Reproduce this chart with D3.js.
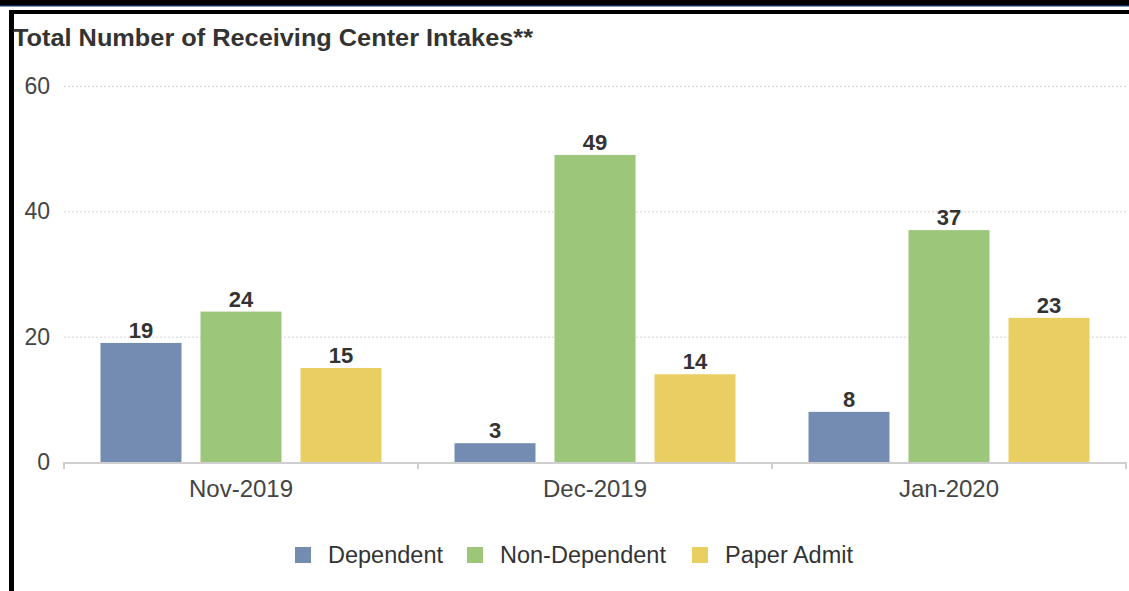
<!DOCTYPE html>
<html>
<head>
<meta charset="utf-8">
<script src="https://cdn.jsdelivr.net/npm/d3@7"></script>
<style>
  html, body { margin: 0; padding: 0; background: #fff; }
  svg { display: block; font-family: "Liberation Sans", Arial, sans-serif; }
</style>
</head>
<body>
<svg id="chart" width="1129" height="591"></svg>
<script>
const title = "Total Number of Receiving Center Intakes**";
const categories = ["Nov-2019", "Dec-2019", "Jan-2020"];
const seriesNames = ["Dependent", "Non-Dependent", "Paper Admit"];
const dependent = [19, 3, 8];
const nonDependent = [24, 49, 37];
const paperAdmit = [15, 14, 23];
const yTicks = [0, 20, 40, 60];
const colors = ["#748CB2", "#9CC67A", "#E9CF62"];

const seriesValues = [dependent, nonDependent, paperAdmit];
const svg = d3.select("#chart");

// frame decorations
svg.append("rect").attr("x", 0).attr("y", 0).attr("width", 1129).attr("height", 5).attr("fill", "#000");
svg.append("rect").attr("x", 0).attr("y", 5).attr("width", 1129).attr("height", 1.5).attr("fill", "#12305a");
svg.append("rect").attr("x", 9).attr("y", 10).attr("width", 1120).attr("height", 4).attr("fill", "#000");
svg.append("rect").attr("x", 9).attr("y", 10).attr("width", 5).attr("height", 581).attr("fill", "#000");

// title
svg.append("text")
  .attr("x", 13).attr("y", 46)
  .attr("font-size", 23).attr("font-weight", "bold").attr("fill", "#333")
  .attr("textLength", 520).attr("lengthAdjust", "spacingAndGlyphs")
  .text(title);

const x0 = d3.scaleBand().domain(categories).range([64, 1126]).paddingInner(0).paddingOuter(0);
const x1 = d3.scaleBand().domain(seriesNames).range([0, x0.bandwidth()]).paddingInner(0.19).paddingOuter(0.365);
const y = d3.scaleLinear().domain([0, 60]).range([462, 86]);

// gridlines
svg.append("g").selectAll("line")
  .data(yTicks.filter(d => d > 0))
  .join("line")
  .attr("x1", 64).attr("x2", 1127)
  .attr("y1", d => y(d) + 0.5).attr("y2", d => y(d) + 0.5)
  .attr("stroke", "#d4d4d4").attr("stroke-width", 1).attr("stroke-dasharray", "2,2");

// y axis labels
const yAxis = d3.axisLeft(y).tickValues(yTicks).tickSize(0).tickPadding(14);
const gy = svg.append("g").attr("transform", "translate(64,0)").call(yAxis);
gy.select(".domain").remove();
gy.selectAll("text").attr("font-size", 23).attr("fill", "#444").attr("font-family", "Liberation Sans, Arial, sans-serif");

// bars
const groups = svg.append("g").selectAll("g")
  .data(categories)
  .join("g")
  .attr("transform", d => `translate(${x0(d)},0)`);

groups.selectAll("rect")
  .data((c, i) => seriesNames.map((s, j) => ({ s, v: seriesValues[j][i], j })))
  .join("rect")
  .attr("x", d => x1(d.s))
  .attr("width", x1.bandwidth())
  .attr("y", d => y(d.v))
  .attr("height", d => y(0) - y(d.v))
  .attr("fill", d => colors[d.j]);

groups.selectAll("text.val")
  .data((c, i) => seriesNames.map((s, j) => ({ s, v: seriesValues[j][i], j })))
  .join("text")
  .attr("class", "val")
  .attr("x", d => x1(d.s) + x1.bandwidth() / 2)
  .attr("y", d => y(d.v) - 5)
  .attr("text-anchor", "middle")
  .attr("font-size", 22).attr("font-weight", "bold").attr("fill", "#333")
  .text(d => d.v);

// x axis
const xAxis = d3.axisBottom(x0).tickSize(0).tickPadding(18);
const gx = svg.append("g").attr("transform", "translate(0,462)").call(xAxis);
gx.select(".domain").remove();
gx.selectAll("text").attr("font-size", 24).attr("fill", "#444").attr("font-family", "Liberation Sans, Arial, sans-serif");
svg.append("line").attr("x1", 64).attr("x2", 1127).attr("y1", 463).attr("y2", 463)
  .attr("stroke", "#cfcfcf").attr("stroke-width", 2);
const boundaries = categories.map(c => x0(c)).concat([x0(categories[categories.length - 1]) + x0.bandwidth()]);
svg.append("g").selectAll("line").data(boundaries).join("line")
  .attr("x1", d => d).attr("x2", d => d)
  .attr("y1", 462).attr("y2", 469)
  .attr("stroke", "#cfcfcf").attr("stroke-width", 2);

// legend
const legendX = [295, 467, 692];
const lg = svg.append("g").selectAll("g").data(seriesNames).join("g")
  .attr("transform", (d, i) => `translate(${legendX[i]},547)`);
lg.append("rect").attr("width", 16).attr("height", 16).attr("fill", (d, i) => colors[i]);
lg.append("text").attr("x", 33).attr("y", 16).attr("font-size", 23.5).attr("fill", "#333").text(d => d);
</script>
</body>
</html>
